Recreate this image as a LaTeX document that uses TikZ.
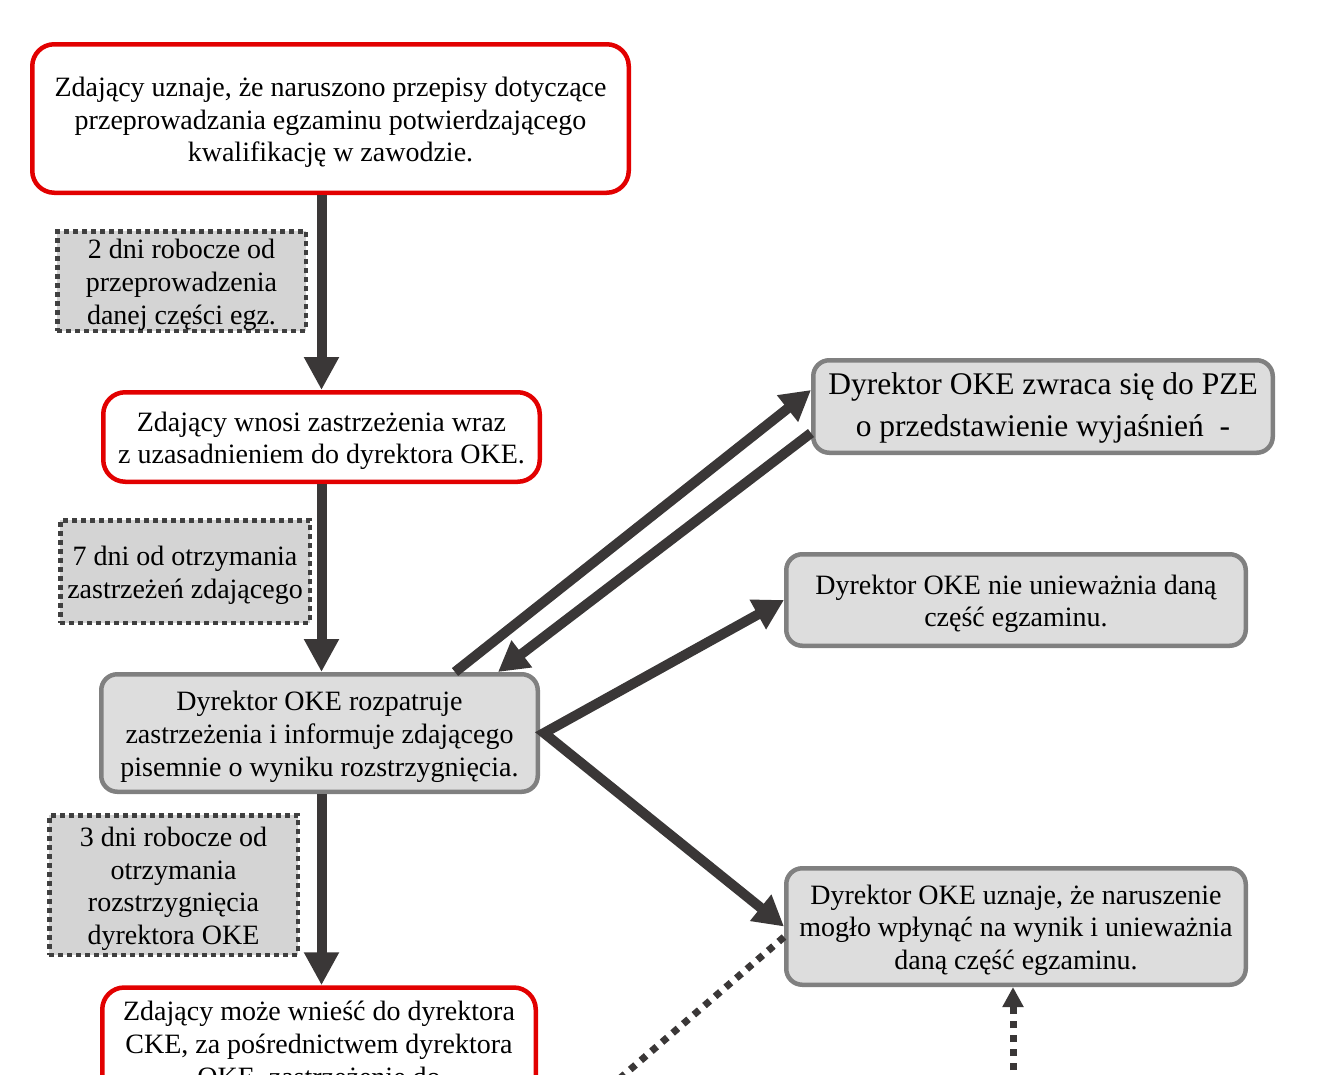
\documentclass[tikz,border=0pt]{standalone}
\usepackage{fontspec}
\setmainfont{Liberation Serif}
\usetikzlibrary{arrows.meta,calc}
\definecolor{boxred}{RGB}{226,0,0}
\definecolor{arrowgray}{RGB}{58,55,55}
\definecolor{boxgray}{RGB}{221,221,221}
\definecolor{bordergray}{RGB}{128,128,128}
\definecolor{notegray}{RGB}{212,212,212}
\definecolor{notedot}{RGB}{64,64,64}
\newcommand\topS{\rule{0pt}{27pt}}
\newcommand\botS{\rule[-6pt]{0pt}{6pt}}
\newcommand\topL{\rule{0pt}{25.5pt}}
\newcommand\botL{\rule[-6.8pt]{0pt}{6.8pt}}
\begin{document}
\begin{tikzpicture}[x=1pt,y=-1pt,
  txt/.style={align=center, inner sep=0pt, font=\fontsize{28}{32.7}\selectfont},
  redbox/.style={txt, draw=boxred, line width=4.5pt, rounded corners=22pt, fill=white},
  graybox/.style={txt, draw=bordergray, line width=4.5pt, rounded corners=16pt, fill=boxgray},
  notebox/.style={txt, draw=notedot, line width=4.5pt, dash pattern=on 5pt off 4pt, fill=notegray},
  flow/.style={draw=arrowgray, line width=10pt, -{Triangle[length=33pt,width=33pt]}},
  diag/.style={draw=arrowgray, line width=10pt, -{Triangle[length=30pt,width=32pt]}},
  dotflow/.style={draw=arrowgray, line width=7pt, dash pattern=on 7pt off 7pt},
]
\useasboundingbox (0,0) rectangle (1331,1074);
\clip (0,0) rectangle (1331,1074);

% left column
\node[redbox, minimum width=596.5pt, minimum height=148.5pt] (t1) at (330.5,118.5)
  {\topS Zdający uznaje, że naruszono przepisy dotyczące\\przeprowadzania egzaminu potwierdzającego\\kwalifikację w zawodzie.\botS};
\node[notebox, minimum width=248.5pt, minimum height=99.5pt] (d1) at (181.5,281)
  {\topS 2 dni robocze od\\przeprowadzenia\\danej części egz.\botS};
\node[redbox, minimum width=436.5pt, minimum height=89.5pt] (t2) at (321.5,437)
  {\topS Zdający wnosi zastrzeżenia wraz\\z uzasadnieniem do dyrektora OKE.\botS};
\node[notebox, minimum width=249.5pt, minimum height=102.5pt] (d2) at (185,571.5)
  {\topS 7 dni od otrzymania\\zastrzeżeń zdającego\botS};
\node[graybox, minimum width=436.5pt, minimum height=117.5pt] (b3) at (319.5,733)
  {\topS Dyrektor OKE rozpatruje\\zastrzeżenia i informuje zdającego\\pisemnie o wyniku rozstrzygnięcia.\botS};
\node[notebox, minimum width=248.5pt, minimum height=139.5pt] (d3) at (173.5,885)
  {\topS 3 dni robocze od\\otrzymania\\rozstrzygnięcia\\dyrektora OKE\botS};
\node[redbox, anchor=north, minimum width=433.5pt, inner ysep=14pt] (t4) at (319,985.25)
  {Zdający może wnieść do dyrektora\\CKE, za pośrednictwem dyrektora\\OKE, zastrzeżenie do};

% right column
\node[graybox, minimum width=459.5pt, minimum height=92.5pt, font=\fontsize{31.5}{42}\selectfont] (pze) at (1043,406.5)
  {\topL Dyrektor OKE zwraca się do PZE\\o przedstawienie wyjaśnień\ \ -\botL};
\node[graybox, minimum width=459.5pt, minimum height=91.5pt] (nie) at (1016,600)
  {\topS Dyrektor OKE nie unieważnia daną\\część egzaminu.\botS};
\node[graybox, minimum width=459.5pt, minimum height=116.5pt] (uzn) at (1016,926.5)
  {\topS Dyrektor OKE uznaje, że naruszenie\\mogło wpłynąć na wynik i unieważnia\\daną część egzaminu.\botS};

% main vertical flow
\draw[flow] (t2.north |- t1.south) -- (t2.north);
\draw[flow] (t2.south) -- (t2.south |- b3.north);
\draw[flow] (t2.south |- b3.south) -- (t2.south |- t4.north);

% to and from PZE
\draw[diag] ([xshift=135.5pt]b3.north) -- ([yshift=16.5pt]pze.west);
\draw[diag] ([yshift=-26.5pt]pze.west) -- ([xshift=178.5pt]b3.north);

% decisions
\coordinate (apex) at ([xshift=4pt]b3.east);
\draw[diag, {Triangle[length=30pt,width=32pt]}-{Triangle[length=30pt,width=32pt]}, line join=miter]
  (nie.west) -- (apex) -- (uzn.west);

% dotted connectors leaving the picture
\coordinate (dotA) at (560,1130);
\coordinate (dotB) at (1013,1140);
\draw[dotflow] ([yshift=-10.5pt]uzn.west) -- (dotA);
\draw[dotflow, -{Triangle[length=20pt,width=20pt]}] (dotB) -- ([xshift=-3pt]uzn.south);
\end{tikzpicture}
\end{document}
